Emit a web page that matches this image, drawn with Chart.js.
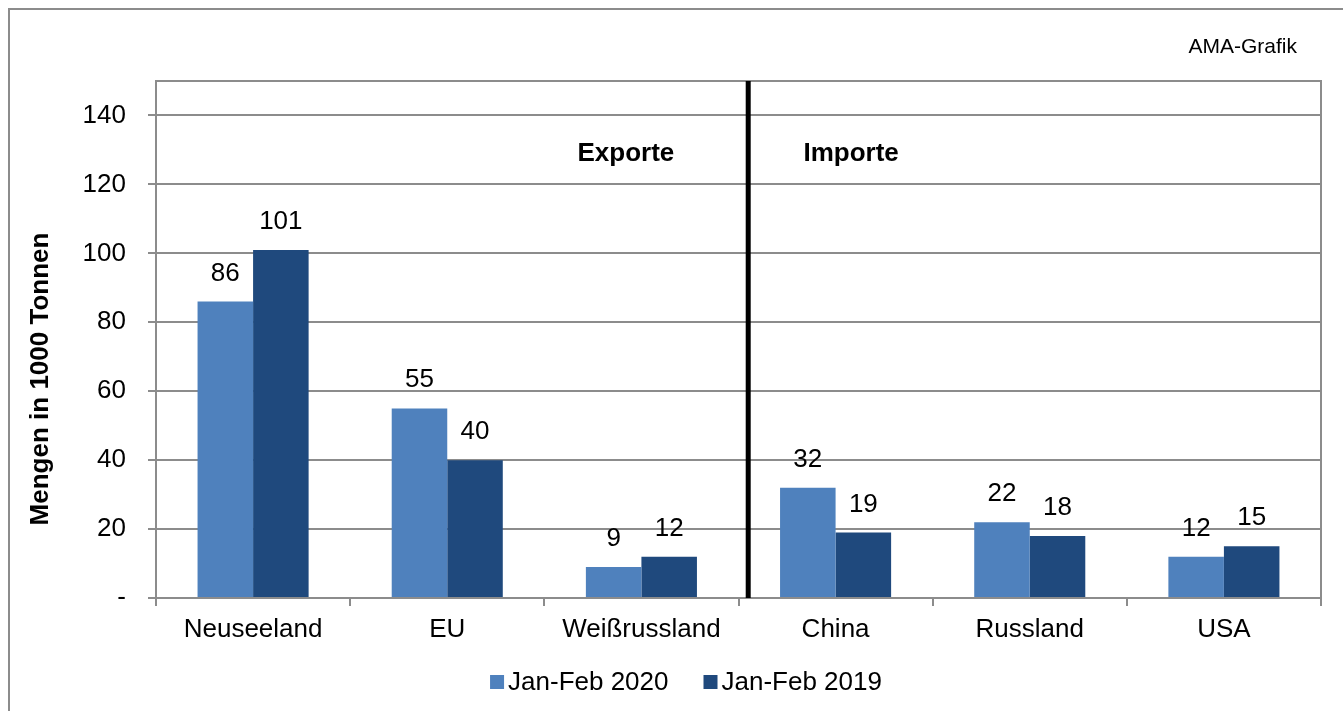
<!DOCTYPE html>
<html>
<head>
<meta charset="utf-8">
<title>Exporte / Importe</title>
<script src="https://cdn.jsdelivr.net/npm/chart.js@4.4.1/dist/chart.umd.min.js"></script>
<style>
    html, body { margin: 0; padding: 0; background: #fff; }
    #wrap { position: relative; width: 1343px; height: 711px; }
</style>
</head>
<body>
<div id="wrap"><canvas id="mengenChart"></canvas></div>
<script>
// chart data
const categories = ['Neuseeland', 'EU', 'Weißrussland', 'China', 'Russland', 'USA'];
const seriesLabels = ['Jan-Feb 2020', 'Jan-Feb 2019'];
const values2020 = [86, 55, 9, 32, 22, 12];
const values2019 = [101, 40, 12, 19, 18, 15];
const yMax = 150;
const yStep = 20;

const FONT = '"Liberation Sans", Arial, sans-serif';
const lightBlue = '#4F81BD';
const darkBlue = '#1F497D';
const gridColor = '#8c8c8c';

// everything Excel draws around the bars: frame, divider, labels, legend
const decor = {
    id: 'decor',
    beforeDraw(chart) {
        const ctx = chart.ctx;
        ctx.save();
        ctx.strokeStyle = gridColor;
        ctx.lineWidth = 2;
        ctx.strokeRect(9, 9, 1400, 800); // outer frame, right/bottom run off the page
        ctx.restore();
    },
    afterDatasetsDraw(chart) {
        const { ctx, chartArea: a, scales: { x, y } } = chart;
        ctx.save();

        // plot area border (top + right)
        ctx.strokeStyle = gridColor;
        ctx.lineWidth = 2;
        ctx.beginPath();
        ctx.moveTo(a.left, a.top);
        ctx.lineTo(a.right, a.top);
        ctx.lineTo(a.right, a.bottom);
        ctx.stroke();

        // black divider between exports and imports
        const p2 = x.getPixelForValue(2), p3 = x.getPixelForValue(3);
        const dx = (p2 + p3) / 2 + (p3 - p2) * 0.05;
        ctx.strokeStyle = '#000';
        ctx.lineWidth = 5;
        ctx.beginPath();
        ctx.moveTo(dx, a.top);
        ctx.lineTo(dx, a.bottom);
        ctx.stroke();

        // value labels above bars
        ctx.fillStyle = '#000';
        ctx.font = '26px ' + FONT;
        ctx.textAlign = 'center';
        ctx.textBaseline = 'alphabetic';
        chart.data.datasets.forEach((ds, i) => {
            chart.getDatasetMeta(i).data.forEach((bar, j) => {
                ctx.fillText(String(ds.data[j]), bar.x, bar.y - 21);
            });
        });

        // section headings
        ctx.font = 'bold 26px ' + FONT;
        ctx.textBaseline = 'middle';
        ctx.fillText('Exporte', x.getPixelForValue(1.92), y.getPixelForValue(129));
        ctx.fillText('Importe', x.getPixelForValue(3.08), y.getPixelForValue(129));
        ctx.restore();
    },
    afterDraw(chart) {
        const ctx = chart.ctx;
        ctx.save();
        ctx.fillStyle = '#000';

        // y axis title
        ctx.font = 'bold 26px ' + FONT;
        ctx.textAlign = 'center';
        ctx.textBaseline = 'middle';
        ctx.translate(41, 379);
        ctx.rotate(-Math.PI / 2);
        ctx.fillText('Mengen in 1000 Tonnen', 0, 0);
        ctx.setTransform(1, 0, 0, 1, 0, 0);

        // source tag
        ctx.font = '21px ' + FONT;
        ctx.textAlign = 'right';
        ctx.textBaseline = 'alphabetic';
        ctx.fillText('AMA-Grafik', 1297, 53);

        // legend row
        ctx.font = '26px ' + FONT;
        ctx.textAlign = 'left';
        ctx.textBaseline = 'middle';
        const box = 14, gap = 4, spacing = 35;
        const items = chart.data.datasets.map(ds => ({ label: ds.label, color: ds.backgroundColor, w: ctx.measureText(ds.label).width }));
        let total = items.reduce((s, it) => s + box + gap + it.w, 0) + spacing * (items.length - 1);
        let lx = 686 - total / 2;
        const ly = 682;
        items.forEach(it => {
            ctx.fillStyle = it.color;
            ctx.fillRect(lx, ly - box / 2, box, box);
            ctx.fillStyle = '#000';
            ctx.fillText(it.label, lx + box + gap, ly + 1);
            lx += box + gap + it.w + spacing;
        });
        ctx.restore();
    }
};

const ctx = document.getElementById('mengenChart').getContext('2d');
new Chart(ctx, {
    type: 'bar',
    data: {
        labels: categories,
        datasets: [
            {
                label: seriesLabels[0],
                data: values2020,
                backgroundColor: lightBlue,
                categoryPercentage: 0.572,
                barPercentage: 1.0
            },
            {
                label: seriesLabels[1],
                data: values2019,
                backgroundColor: darkBlue,
                categoryPercentage: 0.572,
                barPercentage: 1.0
            }
        ]
    },
    options: {
        responsive: true,
        maintainAspectRatio: false,
        animation: false,
        layout: {
            padding: { left: 0, top: 81, right: 22, bottom: 53 }
        },
        plugins: {
            legend: { display: false },
            title: { display: false },
            tooltip: { enabled: false }
        },
        scales: {
            x: {
                afterFit: function(scale) { scale.height = 60; },
                grid: {
                    offset: true,
                    drawOnChartArea: false,
                    drawTicks: true,
                    tickLength: 8,
                    color: gridColor,
                    lineWidth: 2
                },
                border: { color: gridColor, width: 2 },
                ticks: {
                    color: '#000',
                    padding: 8,
                    maxRotation: 0,
                    font: { family: FONT, size: 26 }
                }
            },
            y: {
                min: 0,
                max: yMax,
                afterFit: function(scale) { scale.width = 156; },
                grid: {
                    color: gridColor,
                    lineWidth: 2,
                    tickLength: 8
                },
                border: { color: gridColor, width: 2 },
                ticks: {
                    stepSize: yStep,
                    includeBounds: false,
                    color: '#000',
                    padding: 22,
                    font: { family: FONT, size: 26 },
                    callback: function(value) {
                        return value === 0 ? '-' : value;
                    }
                }
            }
        }
    },
    plugins: [decor]
});
</script>
</body>
</html>
